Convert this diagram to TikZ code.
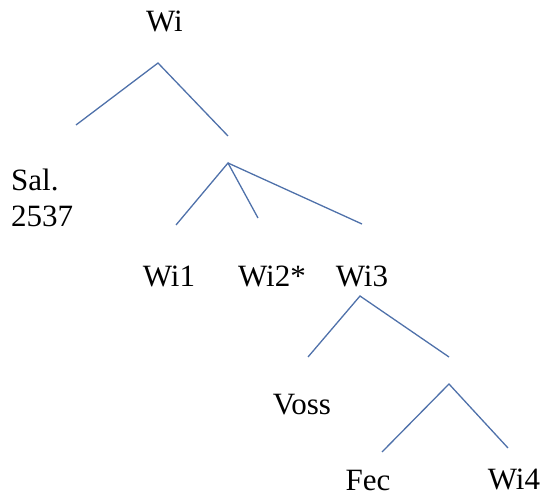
\documentclass[tikz,border=0pt]{standalone}
\usepackage{fontspec}
\setmainfont{Liberation Serif}
\usepackage{tikz}

\definecolor{branch}{RGB}{79,113,170}

\begin{document}
\begin{tikzpicture}[x=1pt,y=-1pt,
	leaf/.style={inner sep=0,anchor=base,font=\rmfamily\fontsize{31}{36}\selectfont},
	stem/.style={draw=branch,line width=1.3pt}]
	\useasboundingbox (0,0) rectangle (544,497);

	\node[leaf] (wi) at (164.5,32) {Wi};
	\node[leaf,anchor=base west,align=left] (sal) at (11,227) {Sal.\\2537};

	\node[leaf] (wi1) at (169,287) {Wi1};
	\node[leaf] (wi2) at (272,287) {Wi2*};
	\node[leaf] (wi3) at (362,287) {Wi3};

	\node[leaf] (voss) at (302,414) {Voss};
	\node[leaf] (fec) at (368,490) {Fec};
	\node[leaf] (wi4) at (514,489) {Wi4};

	% first split
	\coordinate (a) at (158,63);
	\coordinate (al) at (76,125);
	\coordinate (ar) at (228,136);
	\draw[stem] (al) -- (a) -- (ar);

	% three way split
	\coordinate (b) at (228,163);
	\coordinate (bl) at (176,225);
	\coordinate (bm) at (258,218);
	\coordinate (br) at (362,224);
	\draw[stem] (bl) -- (b) -- (bm);
	\draw[stem] (b) -- (br);

	\coordinate (c) at (360,296);
	\coordinate (cl) at (308,357);
	\coordinate (cr) at (449,357);
	\draw[stem] (cl) -- (c) -- (cr);

	\coordinate (d) at (449,384);
	\coordinate (dl) at (382,452);
	\coordinate (dr) at (508,448);
	\draw[stem] (dl) -- (d) -- (dr);

\end{tikzpicture}
\end{document}
